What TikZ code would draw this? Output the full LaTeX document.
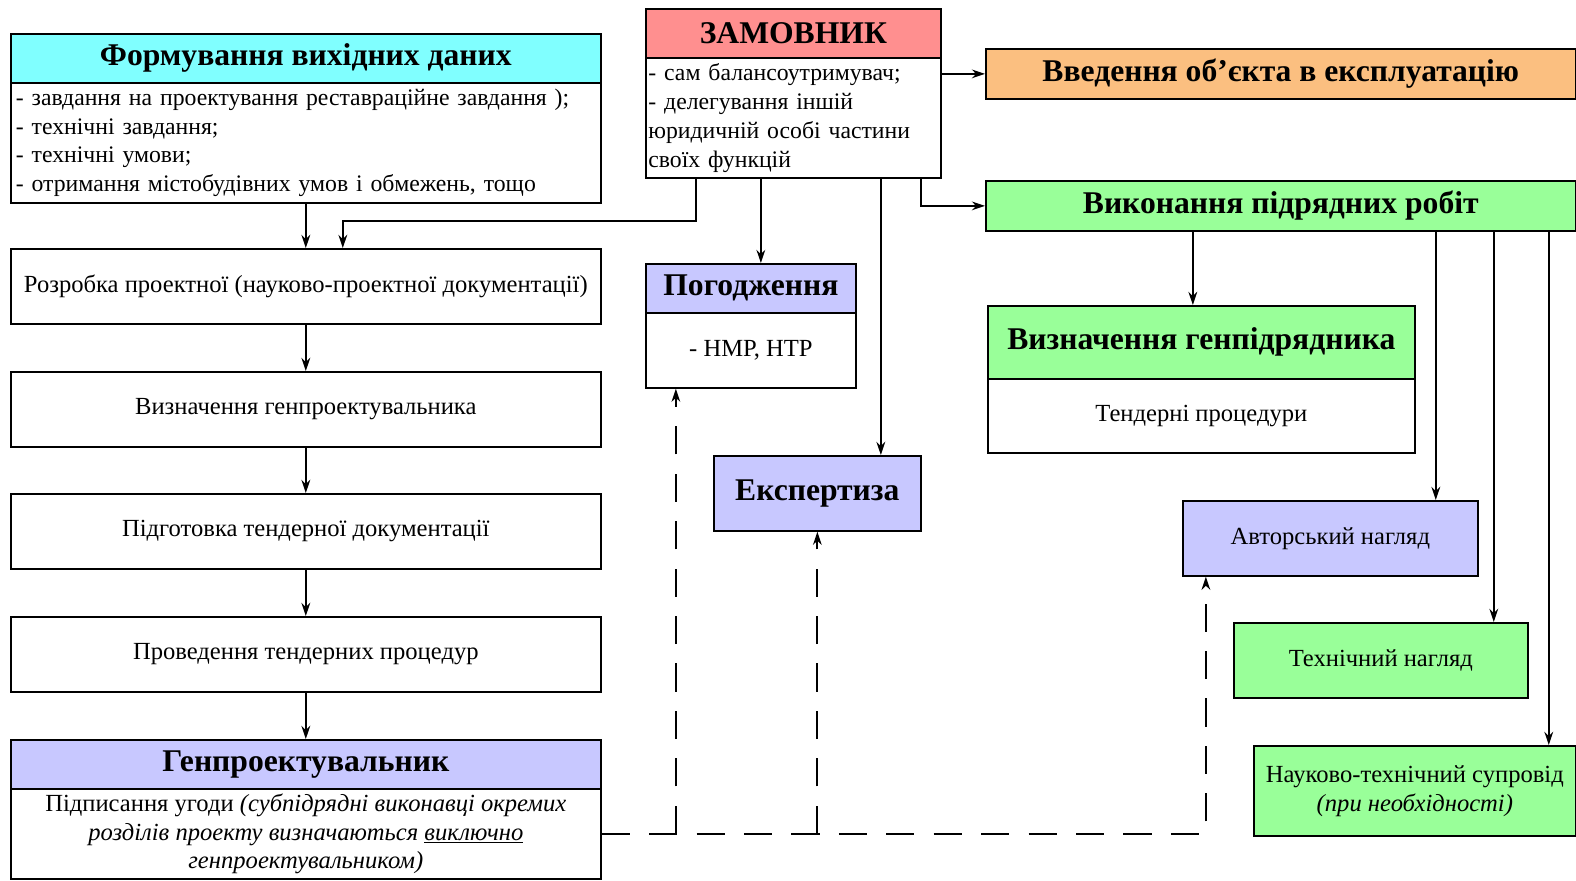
\documentclass[tikz,border=0pt]{standalone}
\usepackage{fontspec}
\setmainfont{Liberation Serif}
\usetikzlibrary{arrows.meta}
\definecolor{bleuciel}{RGB}{128,255,255}
\definecolor{saumon}{RGB}{255,143,143}
\definecolor{abricot}{RGB}{251,191,128}
\definecolor{vert}{RGB}{153,255,153}
\definecolor{lavande}{RGB}{200,200,255}
\begin{document}
\begin{tikzpicture}[x=0.02cm,y=-0.02cm]
	\tikzstyle{fleche}=[-{Stealth[length=7.5pt,width=5pt]},line width=1pt]
	\tikzstyle{tiret}=[fleche,dash pattern=on 16pt off 11pt]
	\tikzstyle{boite}=[draw,line width=1pt,anchor=north west,inner sep=0pt,minimum width=11.8cm,minimum height=1.5cm,align=center,font=\fontsize{14}{16.4}\selectfont]
	\tikzstyle{titre}=[boite,minimum height=0.98cm,font=\bfseries\fontsize{18}{20}\selectfont]
	\tikzstyle{liste}=[boite,align=left,text width=11.6cm,font=\fontsize{13.5}{16.4}\selectfont]
	\useasboundingbox (0,0) rectangle (1576,880);
	% colonne gauche
	\node[titre,fill=bleuciel] (formT) at (10,33) {Формування вихідних даних};
	\node[liste,minimum height=2.4cm] (formB) at (10,82) {- завдання на проектування реставраційне завдання );\\- технічні завдання;\\- технічні умови;\\- отримання містобудівних умов і обмежень, тощо};
	\node[boite] (rozr) at (10,248) {Розробка проектної (науково-проектної документації)};
	\node[boite] (gpv) at (10,371) {Визначення генпроектувальника};
	\node[boite] (pidg) at (10,493) {Підготовка тендерної документації};
	\node[boite] (prov) at (10,616) {Проведення тендерних процедур};
	\node[titre,fill=lavande] (genT) at (10,739) {Генпроектувальник};
	\node[boite,minimum height=1.8cm] (genB) at (10,788) {Підписання угоди \textit{(субпідрядні виконавці окремих}\\\textit{розділів проекту визначаються \underline{виключно}}\\\textit{генпроектувальником)}};
	% замовник
	\node[titre,fill=saumon,minimum width=5.9cm] (zamT) at (645,8) {ЗАМОВНИК};
	\node[liste,minimum width=5.9cm,text width=5.8cm,minimum height=2.4cm] (zamB) at (645,57) {- сам балансоутримувач;\\- делегування іншій\\юридичній особі частини\\своїх функцій};
	\node[titre,fill=lavande,minimum width=4.2cm] (pogT) at (645,263) {Погодження};
	\node[boite,minimum width=4.2cm] (pogB) at (645,312) {- НМР, НТР};
	\node[titre,fill=lavande,minimum width=4.14cm,minimum height=1.5cm] (eksp) at (713,455) {Експертиза};
	% колонна справа
	\node[titre,fill=abricot,minimum height=1cm] (vved) at (985,48) {Введення об'єкта в експлуатацію};
	\node[titre,fill=vert,minimum height=1cm] (vyk) at (985,180) {Виконання підрядних робіт};
	\node[titre,fill=vert,minimum width=8.54cm,minimum height=1.46cm] (vgpT) at (987,305) {Визначення генпідрядника};
	\node[boite,minimum width=8.54cm,minimum height=1.48cm] (vgpB) at (987,378) {Тендерні процедури};
	\node[boite,fill=lavande,minimum width=5.9cm] (avt) at (1182,500) {Авторський нагляд};
	\node[boite,fill=vert,minimum width=5.88cm] (tekh) at (1233,622) {Технічний нагляд};
	\node[boite,fill=vert,minimum width=6.44cm,minimum height=1.8cm] (nauk) at (1253,745) {Науково-технічний супровід\\\textit{(при необхідності)}};
	% fleches
	\draw[fleche] (formB.south) -- (rozr.north);
	\draw[fleche] (rozr.south) -- (gpv.north);
	\draw[fleche] (gpv.south) -- (pidg.north);
	\draw[fleche] (pidg.south) -- (prov.north);
	\draw[fleche] (prov.south) -- (genT.north);
	\draw[fleche] ([xshift=-1.95cm]zamB.south) |- ([xshift=0.74cm,yshift=0.54cm]rozr.north) -- ([xshift=0.74cm]rozr.north);
	\draw[fleche] ([xshift=-0.65cm]zamB.south) -- ([xshift=-0.65cm]zamB.south |- pogT.north);
	\draw[fleche] ([xshift=1.75cm]zamB.south) -- ([xshift=1.75cm]zamB.south |- eksp.north);
	\draw[fleche] ([xshift=2.55cm]zamB.south) |- (vyk.west);
	\draw[fleche] (vved.west -| zamB.east) -- (vved.west);
	\draw[fleche] ([xshift=-1.76cm]vyk.south) -- ([xshift=-1.76cm]vyk.south |- vgpT.north);
	\draw[fleche] ([xshift=3.1cm]vyk.south) -- ([xshift=3.1cm]vyk.south |- avt.north);
	\draw[fleche] ([xshift=4.26cm]vyk.south) -- ([xshift=4.26cm]vyk.south |- tekh.north);
	\draw[fleche] ([xshift=5.36cm]vyk.south) -- ([xshift=5.36cm]vyk.south |- nauk.north);
	% pointilles
	\draw[tiret] (genB.east) -| ([xshift=-2.49cm]avt.south);
	\draw[tiret] ([xshift=-1.5cm]pogB.south |- genB.east) -- ([xshift=-1.5cm]pogB.south);
	\draw[tiret] (eksp.south |- genB.east) -- (eksp.south);
\end{tikzpicture}
\end{document}
